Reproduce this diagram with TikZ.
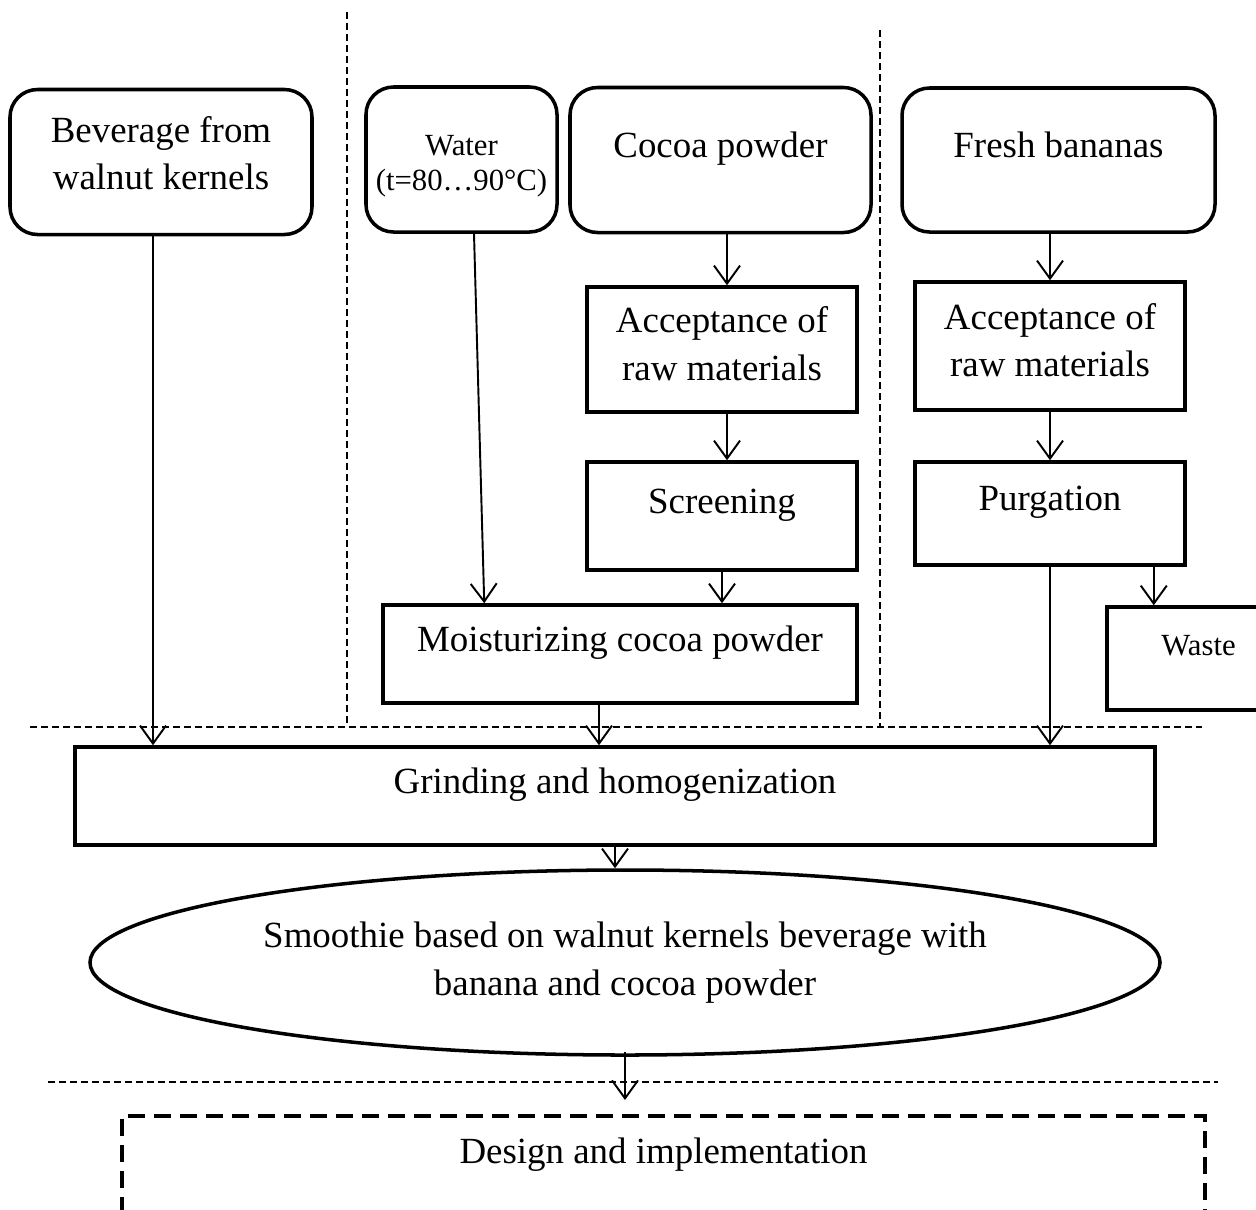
\documentclass[tikz,border=0pt]{standalone}
\usepackage{fontspec}
\setmainfont{Liberation Serif}
\usetikzlibrary{shapes.geometric,arrows.meta,calc}
\tikzstyle{rawbox} = [draw=black, fill=white, line width=2pt,
    rectangle, rounded corners=5.5mm, align=center, font=\fontsize{21}{27}\selectfont]
\tikzstyle{stepbox} = [draw=black, fill=white, line width=2pt,
    rectangle, align=center, font=\fontsize{21}{27}\selectfont]
\tikzstyle{uptext} = [text height=14pt, text depth=17pt]
\tikzstyle{smalltext} = [font=\fontsize{17.5}{20}\selectfont]
\tikzstyle{flow} = [line width=1.1pt, -{Straight Barb[length=3.6mm,width=5.2mm]}]
\tikzstyle{divider} = [line width=0.8pt, dash pattern=on 1.3mm off 0.9mm]

\begin{document}
\begin{tikzpicture}[x=0.2mm, y=-0.2mm]
\useasboundingbox (0,0) rectangle (1256,1209);
\draw[divider] (347,12) -- (347,727);
\draw[divider] (880,30) -- (880,727);
\draw[divider] (30,727) -- (1202,727);
\draw[divider] (48,1082) -- (1218,1082);

\node[rawbox, text depth=10.5pt, minimum width=60.4mm, minimum height=29mm] (bev) at (161,162) {Beverage from\\walnut kernels};
\node[rawbox, smalltext, text height=39pt, minimum width=38.2mm, minimum height=29mm] (water) at (461.5,159.5) {Water\\(t=80…90°C)};
\node[rawbox, uptext, minimum width=60.2mm, minimum height=29mm] (cocoa) at (720.5,160) {Cocoa powder};
\node[rawbox, uptext, minimum width=62.6mm, minimum height=28.8mm] (banana) at (1058.5,160) {Fresh bananas};
\node[stepbox, text depth=7pt, minimum width=54mm, minimum height=25mm] (accc) at (722,349.5) {Acceptance of\\raw materials};
\node[stepbox, uptext, minimum width=54mm, minimum height=21.6mm] (scr) at (722,516) {Screening};
\node[stepbox, uptext, minimum width=94.8mm, minimum height=19.6mm] (moist) at (620,654) {Moisturizing cocoa powder};
\node[stepbox, text depth=7pt, minimum width=54mm, minimum height=25.6mm] (accb) at (1050,346) {Acceptance of\\raw materials};
\node[stepbox, uptext, minimum width=54mm, minimum height=20.6mm] (purg) at (1050,513.5) {Purgation};
\node[stepbox, smalltext, text height=11pt, text depth=14.6pt, minimum width=36.6mm, minimum height=20.6mm] (waste) at (1198.5,658.5) {Waste};
\node[stepbox, uptext, minimum width=216mm, minimum height=19.6mm] (grind) at (615,796) {Grinding and homogenization};
\node[draw=black, fill=white, line width=2pt, ellipse, align=center, font=\fontsize{21}{27}\selectfont,
    minimum width=214mm, minimum height=37mm] (ell) at (625,962.5) {Smoothie based on walnut kernels beverage with\\banana and cocoa powder};
\node[draw=black, line width=2.2pt, dash pattern=on 3.4mm off 1.8mm, anchor=north, font=\fontsize{21}{27}\selectfont,
    minimum width=216.6mm, inner ysep=0pt, text height=27pt, text depth=100pt] (design) at (663.5,1114) {Design and implementation};

\coordinate (bv) at ([xshift=-1.6mm]bev.south);
\coordinate (cc) at ([xshift=1.3mm]cocoa.south);
\coordinate (mo) at ([xshift=-4.2mm]moist.south);
\coordinate (pw) at ([xshift=-6.6mm]purg.south east);
\draw[flow] (bv) -- (bv |- grind.north);
\draw[flow] ([xshift=2.5mm]water.south) -- ($(moist.north west)+(103,0)$);
\draw[flow] (cc) -- (cc |- accc.north);
\draw[flow] (accc.south -| cc) -- (scr.north -| cc);
\draw[flow] (scr) -- (scr |- moist.north);
\draw[flow] (mo) -- (mo |- grind.north);
\draw[flow] (accb.north |- banana.south) -- (accb);
\draw[flow] (accb) -- (purg);
\draw[flow] (purg) -- (purg |- grind.north);
\draw[flow] (pw) -- (pw |- waste.north);
\draw[flow] (grind) -- (grind |- ell.north);
\draw[flow, shorten >=2.8mm] ([yshift=1mm]ell.south) -- (ell.south |- design.north);
\end{tikzpicture}
\end{document}
